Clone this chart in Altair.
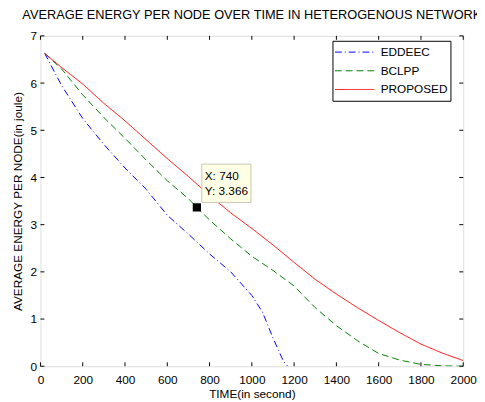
import altair as alt
import pandas as pd

# ---- data ----
series_names = ["EDDEEC", "BCLPP", "PROPOSED"]

eddeec_t = [20, 100, 200, 300, 400, 500, 600, 700, 800, 900, 1000, 1050, 1100, 1150, 1170]
eddeec_e = [6.63, 5.95, 5.25, 4.70, 4.20, 3.75, 3.20, 2.80, 2.38, 2.00, 1.50, 1.15, 0.60, 0.10, 0.0]

bclpp_t = [20, 100, 200, 300, 400, 500, 600, 700, 740, 800, 900, 1000, 1100, 1200, 1300,
           1400, 1500, 1600, 1700, 1800, 1900, 2000]
bclpp_e = [6.63, 6.30, 5.75, 5.27, 4.83, 4.37, 3.93, 3.55, 3.366, 3.10, 2.70, 2.33, 2.03, 1.70, 1.24,
           0.86, 0.54, 0.27, 0.13, 0.04, 0.01, 0.0]

prop_t = [20, 100, 200, 300, 400, 500, 600, 700, 800, 900, 1000, 1100, 1200, 1300,
          1400, 1500, 1600, 1700, 1800, 1900, 2000]
prop_e = [6.63, 6.33, 5.98, 5.57, 5.20, 4.80, 4.40, 4.02, 3.62, 3.25, 2.92, 2.57, 2.20, 1.84,
          1.53, 1.24, 0.97, 0.71, 0.47, 0.28, 0.12]

cursor_t = [740]
cursor_e = [3.366]
cursor_lines = ["X: 740", "Y: 3.366"]

x_ticks = [0, 200, 400, 600, 800, 1000, 1200, 1400, 1600, 1800, 2000]
y_ticks = [0, 1, 2, 3, 4, 5, 6, 7]

title_text = "AVERAGE ENERGY PER NODE OVER TIME IN HETEROGENOUS NETWORK"
x_title = "TIME(in second)"
y_title = "AVERAGE ENERGY PER NODE(in joule)"

# ---- tables ----
rows = []
for name, ts, es in [("EDDEEC", eddeec_t, eddeec_e), ("BCLPP", bclpp_t, bclpp_e), ("PROPOSED", prop_t, prop_e)]:
    for i, (t, e) in enumerate(zip(ts, es)):
        rows.append({"series": name, "t": t, "e": e, "order": i})
df = pd.DataFrame(rows)

cursor_df = pd.DataFrame({"t": cursor_t, "e": cursor_e})

FONT = "Liberation Sans"
W, H = 430, 336
XMAX, YMAX = 2000, 7
tick_len_x = 4 * XMAX / W
tick_len_y = 4 * YMAX / H

xscale = alt.Scale(domain=[0, XMAX], nice=False, zero=False)
yscale = alt.Scale(domain=[0, YMAX], nice=False, zero=False)

common_axis = dict(grid=False, ticks=False, domain=False, labelFontSize=12, titleFontSize=12,
                   titleFontWeight="normal", labelColor="black", titleColor="black",
                   labelFont=FONT, titleFont=FONT, labelOverlap=False, labelFlush=False, format="d")
xaxis = alt.Axis(values=x_ticks, title=x_title, labelPadding=9, titlePadding=3, **common_axis)
yaxis = alt.Axis(values=y_ticks, title=y_title, labelPadding=4, titlePadding=6, **common_axis)

lines = alt.Chart(df).mark_line(strokeWidth=1, clip=True).encode(
    x=alt.X("t:Q", scale=xscale, axis=xaxis),
    y=alt.Y("e:Q", scale=yscale, axis=yaxis),
    color=alt.Color("series:N", scale=alt.Scale(domain=series_names, range=["#0000ff", "#008000", "#ff0000"]),
                    legend=alt.Legend(title=None, orient="none", legendX=297, legendY=5,
                                      strokeColor="black", fillColor="white", padding=2,
                                      symbolType="stroke", symbolSize=1600, symbolStrokeWidth=1,
                                      clipHeight=19, labelFontSize=12, labelFont=FONT, labelColor="black",
                                      rowPadding=0, labelOffset=6)),
    strokeDash=alt.StrokeDash("series:N", scale=alt.Scale(domain=series_names,
                                                           range=[[7, 3, 1, 3], [7, 4], [1, 0]]),
                              legend=None),
    order="order:Q",
)

tdf_x = pd.DataFrame({"v": x_ticks})
tdf_y = pd.DataFrame({"v": y_ticks})

xt_bottom = alt.Chart(tdf_x).mark_rule(color="black", strokeWidth=1).encode(
    x=alt.X("v:Q", scale=xscale), y=alt.datum(0), y2=alt.datum(tick_len_y))
xt_top = alt.Chart(tdf_x).mark_rule(color="black", strokeWidth=1).encode(
    x=alt.X("v:Q", scale=xscale), y=alt.datum(YMAX), y2=alt.datum(YMAX - tick_len_y))
yt_left = alt.Chart(tdf_y).mark_rule(color="black", strokeWidth=1).encode(
    y=alt.Y("v:Q", scale=yscale), x=alt.datum(0), x2=alt.datum(tick_len_x))
yt_right = alt.Chart(tdf_y).mark_rule(color="black", strokeWidth=1).encode(
    y=alt.Y("v:Q", scale=yscale), x=alt.datum(XMAX), x2=alt.datum(XMAX - tick_len_x))

box = alt.Chart(cursor_df).mark_rect(fill="#ffffe6", stroke="#c8c8b4", strokeWidth=1,
                                     xOffset=5, x2Offset=55, yOffset=-44, y2Offset=-5).encode(
    x="t:Q", x2="t:Q", y="e:Q", y2="e:Q")
marker = alt.Chart(cursor_df).mark_square(size=70, color="black", opacity=1).encode(x="t:Q", y="e:Q")
txt1 = alt.Chart(cursor_df).mark_text(text=cursor_lines[0], align="left", baseline="middle", dx=8, dy=-32,
                                      fontSize=12, font=FONT, color="black").encode(x="t:Q", y="e:Q")
txt2 = alt.Chart(cursor_df).mark_text(text=cursor_lines[1], align="left", baseline="middle", dx=8, dy=-17,
                                      fontSize=12, font=FONT, color="black").encode(x="t:Q", y="e:Q")

chart = alt.layer(lines, xt_bottom, xt_top, yt_left, yt_right, box, marker, txt1, txt2).properties(
    width=W, height=H,
    title=alt.Title(title_text, fontSize=13, font=FONT, fontWeight="normal", color="black",
                    anchor="middle", offset=8),
    autosize=alt.AutoSizeParams(type="none"),
    padding={"left": 33, "top": 25, "right": 14, "bottom": 33},
).configure_view(stroke="black", strokeWidth=1).configure(background="white")

chart.save("out.html", embed_options={"renderer": "svg", "actions": False})
